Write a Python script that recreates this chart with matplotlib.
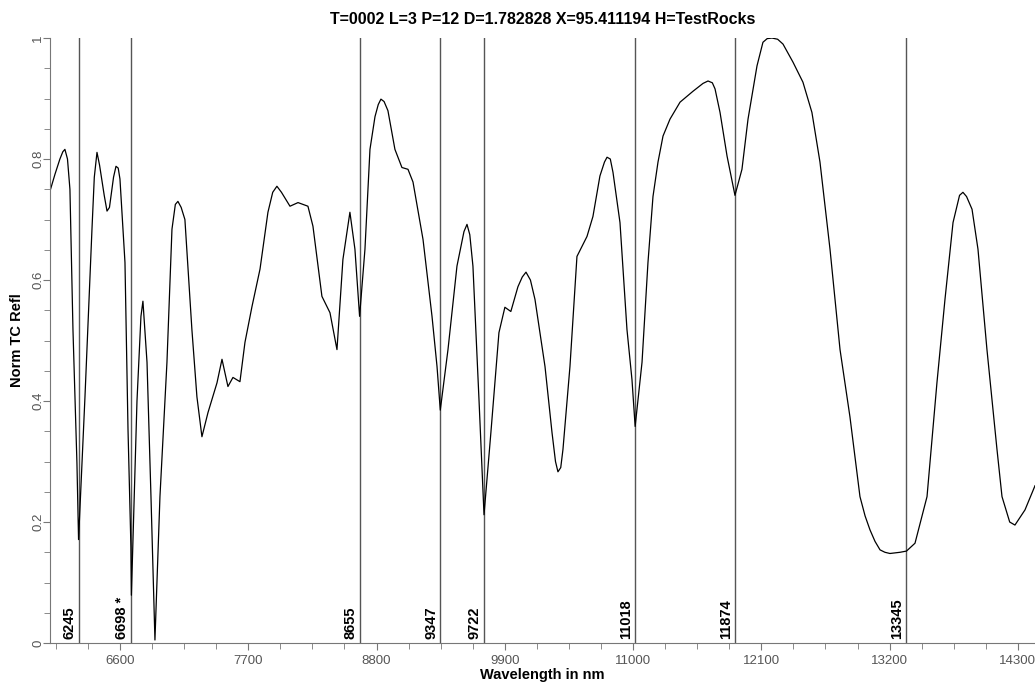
import matplotlib
matplotlib.use('Agg')
from matplotlib import pyplot as plt
from matplotlib.ticker import MultipleLocator

plt.rcParams['font.family'] = ['Liberation Sans', 'DejaVu Sans']

# spectrum
wavelength = [6000, 6043, 6085, 6110, 6128, 6150, 6171, 6197, 6231, 6245, 6300, 6360,
              6380, 6403, 6425, 6465, 6489, 6510, 6545, 6566, 6585, 6600, 6643, 6669,
              6694, 6698, 6746, 6780, 6797, 6832, 6866, 6900, 6943, 7003, 7046, 7075,
              7097, 7125, 7157, 7217, 7260, 7303, 7355, 7432, 7475, 7526, 7569, 7629,
              7672, 7732, 7801, 7869, 7910, 7946, 7985, 8058, 8127, 8212, 8255, 8332,
              8401, 8461, 8512, 8572, 8615, 8655, 8701, 8744, 8787, 8815, 8838, 8865,
              8898, 8958, 9018, 9070, 9113, 9199, 9276, 9319, 9347, 9413, 9490, 9550,
              9576, 9600, 9627, 9679, 9722, 9781, 9850, 9901, 9952, 10013, 10050, 10082,
              10120, 10159, 10245, 10305, 10335, 10356, 10380, 10399, 10459, 10519, 10605, 10656,
              10716, 10755, 10777, 10805, 10828, 10888, 10948, 10991, 11018, 11077, 11128, 11171,
              11214, 11257, 11317, 11403, 11514, 11600, 11643, 11680, 11703, 11746, 11806, 11874,
              11934, 11986, 12063, 12114, 12150, 12191, 12240, 12286, 12372, 12457, 12534, 12603,
              12689, 12775, 12860, 12946, 12990, 13032, 13075, 13118, 13160, 13203, 13290, 13345,
              13418, 13521, 13606, 13675, 13744, 13800, 13829, 13860, 13907, 13958, 14035, 14121,
              14164, 14230, 14275, 14361, 14447]
refl = [0.747, 0.775, 0.800, 0.812, 0.816, 0.800, 0.750, 0.518, 0.298, 0.171, 0.407, 0.684,
        0.770, 0.811, 0.790, 0.740, 0.714, 0.720, 0.770, 0.788, 0.785, 0.767, 0.629, 0.353,
        0.159, 0.079, 0.400, 0.540, 0.565, 0.464, 0.242, 0.005, 0.242, 0.464, 0.684, 0.725,
        0.730, 0.720, 0.700, 0.518, 0.407, 0.341, 0.381, 0.430, 0.469, 0.424, 0.439, 0.432,
        0.497, 0.556, 0.618, 0.712, 0.745, 0.755, 0.745, 0.722, 0.728, 0.722, 0.689, 0.573,
        0.546, 0.485, 0.634, 0.712, 0.651, 0.540, 0.651, 0.816, 0.870, 0.890, 0.899, 0.895,
        0.880, 0.816, 0.786, 0.783, 0.762, 0.667, 0.540, 0.457, 0.385, 0.485, 0.623, 0.680,
        0.692, 0.675, 0.623, 0.402, 0.212, 0.348, 0.513, 0.555, 0.548, 0.589, 0.605, 0.613,
        0.600, 0.568, 0.457, 0.348, 0.300, 0.283, 0.290, 0.320, 0.457, 0.639, 0.672, 0.705,
        0.772, 0.795, 0.803, 0.800, 0.778, 0.695, 0.518, 0.435, 0.358, 0.464, 0.629, 0.738,
        0.795, 0.838, 0.866, 0.894, 0.912, 0.925, 0.929, 0.926, 0.916, 0.877, 0.805, 0.740,
        0.783, 0.866, 0.954, 0.993, 0.999, 1.000, 0.998, 0.990, 0.960, 0.927, 0.877, 0.795,
        0.651, 0.485, 0.374, 0.242, 0.210, 0.187, 0.168, 0.154, 0.150, 0.148, 0.150, 0.152,
        0.165, 0.242, 0.430, 0.568, 0.695, 0.740, 0.745, 0.738, 0.717, 0.651, 0.485, 0.320,
        0.242, 0.200, 0.195, 0.220, 0.260]

# marked band positions
band_pos = [6245, 6698, 8655, 9347, 9722, 11018, 11874, 13345]
band_labels = ['6245', '6698 *', '8655', '9347', '9722', '11018', '11874', '13345']

fig = plt.figure(figsize=(10.35, 6.84), dpi=100)
ax = fig.add_axes([0.0483, 0.0599, 0.9517, 0.8845])

for x, lab in zip(band_pos, band_labels):
    ax.axvline(x, color='#555555', lw=1.0, zorder=1)
    ax.annotate(lab, xy=(x, 0), xytext=(-1.5, 3), textcoords='offset points',
                rotation=90, ha='right', va='bottom', fontsize=10.5, fontweight='bold')

ax.plot(wavelength, refl, color='black', lw=0.9, zorder=2)

ax.set_xlim(6000, 14447)
ax.set_ylim(0, 1)
ax.xaxis.set_major_locator(MultipleLocator(1100))
ax.xaxis.set_minor_locator(MultipleLocator(275))
ax.yaxis.set_major_locator(MultipleLocator(0.2))
ax.yaxis.set_minor_locator(MultipleLocator(0.05))
ax.set_yticks([0, 0.2, 0.4, 0.6, 0.8, 1])
ax.set_yticklabels(['0', '0.2', '0.4', '0.6', '0.8', '1'], rotation=90, va='center')

for s in ['top', 'right']:
    ax.spines[s].set_visible(False)
for s in ['left', 'bottom']:
    ax.spines[s].set_color('#777777')
ax.tick_params(which='both', colors='#777777', labelcolor='#555555', labelsize=9.5)
ax.tick_params(which='major', length=5)
ax.tick_params(which='minor', length=4)
ax.tick_params(axis='y', which='major', pad=-1)

ax.set_xlabel('Wavelength in nm', fontsize=10.5, fontweight='bold', labelpad=1)
ax.set_ylabel('Norm TC Refl', fontsize=10.5, fontweight='bold', labelpad=6)
ax.set_title('T=0002 L=3 P=12 D=1.782828 X=95.411194 H=TestRocks',
             fontsize=11.5, fontweight='bold', pad=10)

fig.savefig('out.png', dpi=100)
